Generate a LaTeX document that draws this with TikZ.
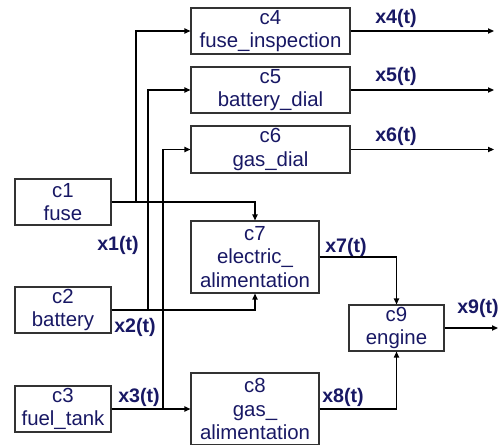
\documentclass[tikz,border=0pt]{standalone}
\usepackage{fontspec}
\setmainfont{Liberation Sans}
\usepackage{tikz}
\usetikzlibrary{arrows.meta,positioning,calc}
\definecolor{navy}{RGB}{24,24,100}
\tikzset{
  comp/.style={draw=black!80,line width=0.55pt,inner sep=0pt,align=center,
    text=navy,font=\fontsize{10.2}{11.6}\selectfont},
  sig/.style={text=navy,font=\bfseries\fontsize{9.8}{11}\selectfont,inner sep=0pt},
  arr/.style={line width=0.6pt,-{Triangle[length=3pt,width=2.6pt]}}
}

\begin{document}
\begin{tikzpicture}[x=0.5pt,y=-0.5pt]
  \useasboundingbox (0,0) rectangle (501,444); % 図全体の範囲
  \node[comp,minimum width=48pt,minimum height=23pt] (c1) at (63,202) {c1\\fuse}; % ヒューズ
  \node[comp,minimum width=48pt,minimum height=23pt] (c2) at (63,310) {c2\\battery}; % バッテリー
  \node[comp,minimum width=48pt,minimum height=23pt] (c3) at (63,409) {c3\\fuel\_tank}; % 燃料タンク
  \node[comp,minimum width=79.5pt,minimum height=23pt] (c4) at (270.5,31) {c4\\fuse\_inspection}; % ヒューズ点検
  \node[comp,minimum width=79.5pt,minimum height=23pt] (c5) at (270.5,90) {c5\\battery\_dial}; % バッテリー計
  \node[comp,minimum width=79.5pt,minimum height=23.5pt] (c6) at (270.5,149.5) {c6\\gas\_dial}; % 燃料計
  \node[comp,minimum width=64pt,minimum height=36pt] (c7) at (255,257) {c7\\electric\_\\alimentation}; % 電気供給
  \node[comp,minimum width=64pt,minimum height=36pt] (c8) at (255,409) {c8\\gas\_\\alimentation}; % 燃料供給
  \node[comp,minimum width=47.5pt,minimum height=23pt] (c9) at (396.5,328) {c9\\engine}; % エンジン
  \coordinate (b1) at (136,0); % c4へ上がる縦線の位置
  \coordinate (b2) at (148,0); % c5へ上がる縦線の位置
  \coordinate (b3) at (163,0); % c6へ上がる縦線の位置
  \coordinate (o4) at (494,31); % x4の出口
  \coordinate (o5) at (494,90); % x5の出口
  \coordinate (o6) at (494,149.5); % x6の出口
  \coordinate (o9) at (498,328); % x9の出口
  \draw[arr] (c1.east) -- (c1.east -| b1) |- (c4.west); % c1からc4へ
  \draw[arr] (c1.east) -| (c7.north); % c1からc7へ
  \draw[arr] (c2.east) -- (c2.east -| b2) |- (c5.west); % c2からc5へ
  \draw[arr] (c2.east) -| (c7.south); % c2からc7へ
  \draw[arr] (c3.east) -- (c3.east -| b3) |- (c6.west); % c3からc6へ
  \draw[arr] (c3.east) -- (c8.west); % c3からc8へ
  \draw[arr] (c7.east) -| (c9.north); % c7からc9へ
  \draw[arr] (c8.east) -| (c9.south); % c8からc9へ
  \draw[arr] (c4.east) -- (o4); % c4の出力
  \draw[arr] (c5.east) -- (o5); % c5の出力
  \draw[arr] (c6.east) -- (o6); % c6の出力
  \draw[arr] (c9.east) -- (o9); % c9の出力
  \node[sig] (l1) at (118,245) {x1(t)}; % 信号x1
  \node[sig] (l2) at (135,327) {x2(t)}; % 信号x2
  \node[sig] (l3) at (139,397) {x3(t)}; % 信号x3
  \node[sig] (l4) at (396,18) {x4(t)}; % 信号x4
  \node[sig] (l5) at (396,76) {x5(t)}; % 信号x5
  \node[sig] (l6) at (396,136) {x6(t)}; % 信号x6
  \node[sig] (l7) at (346,247) {x7(t)}; % 信号x7
  \node[sig] (l8) at (343,397) {x8(t)}; % 信号x8
  \node[sig] (l9) at (478,308) {x9(t)}; % 信号x9
\end{tikzpicture}
\end{document}
